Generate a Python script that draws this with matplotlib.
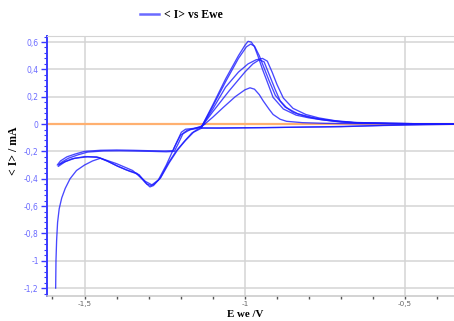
import matplotlib
matplotlib.use("Agg")
import matplotlib.pyplot as plt
from matplotlib.ticker import MultipleLocator, FuncFormatter
from matplotlib.lines import Line2D

# ---------------- data (E in V, <I> in mA) ----------------
# initial transient + first positive sweep (through the reduction dip)
INIT_E = [-1.59, -1.589, -1.587, -1.584, -1.579, -1.571, -1.56, -1.545, -1.525, -1.5, -1.475,
          -1.45, -1.40, -1.35, -1.31, -1.29, -1.27, -1.245, -1.22, -1.2, -1.17, -1.14, -1.125]
INIT_I = [-1.2, -1.0, -0.85, -0.72, -0.62, -0.54, -0.47, -0.40, -0.34, -0.30, -0.27,
          -0.25, -0.29, -0.34, -0.42, -0.445, -0.41, -0.30, -0.17, -0.08, -0.04, -0.02, 0.0]

# cathodic loops (negative sweep through dip, back along upper plateau)
CATH_A_E = [-1.135, -1.16, -1.185, -1.21, -1.235, -1.262, -1.285, -1.296, -1.31, -1.337, -1.37,
            -1.40, -1.43, -1.462, -1.50, -1.54, -1.565, -1.585, -1.575, -1.555, -1.53, -1.50,
            -1.45, -1.40, -1.35, -1.30, -1.25, -1.224, -1.212, -1.198, -1.185, -1.16, -1.135]
CATH_A_I = [-0.03, -0.06, -0.12, -0.19, -0.28, -0.39, -0.45, -0.46, -0.43, -0.36, -0.335,
            -0.305, -0.27, -0.24, -0.238, -0.255, -0.28, -0.30, -0.27, -0.24, -0.22, -0.20,
            -0.192, -0.19, -0.192, -0.195, -0.197, -0.195, -0.13, -0.06, -0.038, -0.032, -0.02]
CATH_B_E = [-1.14, -1.165, -1.19, -1.215, -1.24, -1.265, -1.283, -1.292, -1.305, -1.33, -1.36,
            -1.395, -1.425, -1.455, -1.49, -1.53, -1.56, -1.582, -1.572, -1.55, -1.52, -1.49,
            -1.44, -1.39, -1.34, -1.29, -1.245, -1.22, -1.207, -1.193, -1.18, -1.155, -1.135]
CATH_B_I = [-0.028, -0.065, -0.13, -0.2, -0.29, -0.40, -0.44, -0.45, -0.44, -0.37, -0.345,
            -0.31, -0.275, -0.245, -0.24, -0.25, -0.275, -0.31, -0.28, -0.25, -0.225, -0.205,
            -0.197, -0.196, -0.198, -0.2, -0.203, -0.2, -0.14, -0.07, -0.045, -0.035, -0.02]

# reverse (negative-going) sweep from the vertex
REV_A_E = [-0.35, -0.45, -0.55, -0.65, -0.75, -0.9, -1.05, -1.135]
REV_A_I = [-0.002, -0.006, -0.01, -0.015, -0.02, -0.025, -0.028, -0.03]
REV_B_E = [-0.40, -0.50, -0.60, -0.70, -0.80, -0.95, -1.08, -1.14]
REV_B_I = [-0.001, -0.004, -0.012, -0.02, -0.022, -0.027, -0.03, -0.028]

# oxidation waves, one per cycle
OX1_E = [-1.135, -1.10, -1.068, -1.03, -1.0, -0.984, -0.97, -0.955, -0.943, -0.925, -0.912,
         -0.89, -0.87, -0.82, -0.75, -0.65, -0.5, -0.35]
OX1_I = [-0.02, 0.05, 0.12, 0.20, 0.25, 0.265, 0.255, 0.215, 0.17, 0.11, 0.07,
         0.035, 0.02, 0.01, 0.005, 0.003, 0.001, 0.0]
OX2_E = [-1.135, -1.10, -1.05, -1.0, -0.975, -0.955, -0.94, -0.922, -0.905, -0.89, -0.87,
         -0.85, -0.81, -0.77, -0.72, -0.66, -0.55, -0.45, -0.35]
OX2_I = [-0.02, 0.09, 0.24, 0.38, 0.44, 0.47, 0.455, 0.35, 0.25, 0.17, 0.12,
         0.086, 0.055, 0.035, 0.02, 0.01, 0.005, 0.002, 0.0]
OX3_E = [-1.135, -1.10, -1.06, -1.02, -0.99, -0.965, -0.945, -0.93, -0.915, -0.9, -0.88,
         -0.85, -0.81, -0.77, -0.72, -0.66, -0.55, -0.45, -0.35]
OX3_I = [-0.02, 0.11, 0.27, 0.38, 0.44, 0.47, 0.48, 0.46, 0.38, 0.29, 0.19,
         0.115, 0.07, 0.045, 0.025, 0.012, 0.005, 0.002, 0.0]
OX4_E = [-1.135, -1.10, -1.06, -1.02, -0.995, -0.982, -0.97, -0.955, -0.94, -0.925, -0.905,
         -0.875, -0.835, -0.79, -0.75, -0.70, -0.65, -0.55, -0.45, -0.35]
OX4_I = [-0.02, 0.13, 0.31, 0.48, 0.565, 0.585, 0.57, 0.50, 0.41, 0.32, 0.21,
         0.125, 0.075, 0.048, 0.032, 0.018, 0.01, 0.005, 0.002, 0.0]
OX5_E = [-1.135, -1.10, -1.06, -1.02, -1.0, -0.99, -0.98, -0.97, -0.958, -0.945, -0.932,
         -0.912, -0.88, -0.84, -0.80, -0.757, -0.70, -0.65, -0.55, -0.45, -0.35]
OX5_I = [-0.02, 0.14, 0.33, 0.50, 0.575, 0.605, 0.60, 0.565, 0.49, 0.40, 0.32,
         0.195, 0.11, 0.065, 0.045, 0.03, 0.015, 0.008, 0.004, 0.002, 0.0]

ZERO_E = [-1.62, -0.35]
ZERO_I = [0.0, 0.0]

X_LABEL = "E we /V"
Y_LABEL = "< I> / mA"
LEGEND_LABEL = "< I> vs Ewe"

# ---------------- figure ----------------
fig = plt.figure(figsize=(4.54, 3.21), dpi=100)
ax = fig.add_axes([47 / 454, 1 - 296 / 321, 1 - 47 / 454 + 0.002, (296 - 36) / 321])

blue = (0.1, 0.1, 1.0)
kw = dict(color=blue, lw=0.95, alpha=0.8, solid_joinstyle="round")

ax.plot(ZERO_E, ZERO_I, color="#ffb070", lw=1.6, zorder=2)
curves = [(INIT_E, INIT_I), (CATH_A_E, CATH_A_I), (CATH_B_E, CATH_B_I),
          (REV_A_E, REV_A_I), (REV_B_E, REV_B_I),
          (OX1_E, OX1_I), (OX2_E, OX2_I), (OX3_E, OX3_I), (OX4_E, OX4_I), (OX5_E, OX5_I)]
for e, i in curves:
    ax.plot(e, i, zorder=3, **kw)

ax.set_xlim(-1.617, -0.345)
ax.set_ylim(-1.258, 0.644)

comma = FuncFormatter(lambda v, p: ("%g" % round(v, 3)).replace(".", ","))
ax.xaxis.set_major_locator(MultipleLocator(0.5))
ax.xaxis.set_minor_locator(MultipleLocator(0.1))
ax.yaxis.set_major_locator(MultipleLocator(0.2))
ax.yaxis.set_minor_locator(MultipleLocator(0.04))
ax.xaxis.set_major_formatter(comma)
ax.yaxis.set_major_formatter(comma)

ax.grid(True, which="major", color="#d4d4d4", lw=1.1)
ax.set_axisbelow(True)

ax.spines["right"].set_visible(False)
ax.spines["top"].set_color("#d4d4d4")
ax.spines["left"].set_color("#3a3aff")
ax.spines["left"].set_linewidth(1.4)
ax.spines["bottom"].set_color("#c8c8c8")
ax.spines["bottom"].set_linewidth(1.1)

ax.tick_params(axis="y", which="major", colors="#3a3aff", labelcolor="#6a6aff",
               labelsize=5.5, length=4, width=1.0, pad=2)
ax.tick_params(axis="y", which="minor", colors="#3a3aff", length=2, width=0.8)
ax.tick_params(axis="x", which="major", colors="#555555", labelcolor="#666666",
               labelsize=5.2, length=2, width=1.0, pad=1.5)
ax.tick_params(axis="x", which="minor", colors="#555555", length=2, width=1.0)

serif = ["Liberation Serif", "DejaVu Serif"]
ax.set_xlabel(X_LABEL, family=serif, fontweight="bold", fontsize=7.8)
ax.xaxis.set_label_coords(0.486, -0.0545)
ax.set_ylabel(Y_LABEL, family=serif, fontweight="bold", fontsize=8.5)
ax.yaxis.set_label_coords(-0.066, 0.56)

handle = Line2D([], [], color="#6a6aff", lw=1.8)
fig.legend([handle], [LEGEND_LABEL], loc="center left",
           bbox_to_anchor=(129 / 454, 1 - 15 / 321), frameon=False,
           handlelength=1.6, handletextpad=0.45,
           prop=dict(family=serif, weight="bold", size=8.5))

fig.savefig("out.png", dpi=100)
